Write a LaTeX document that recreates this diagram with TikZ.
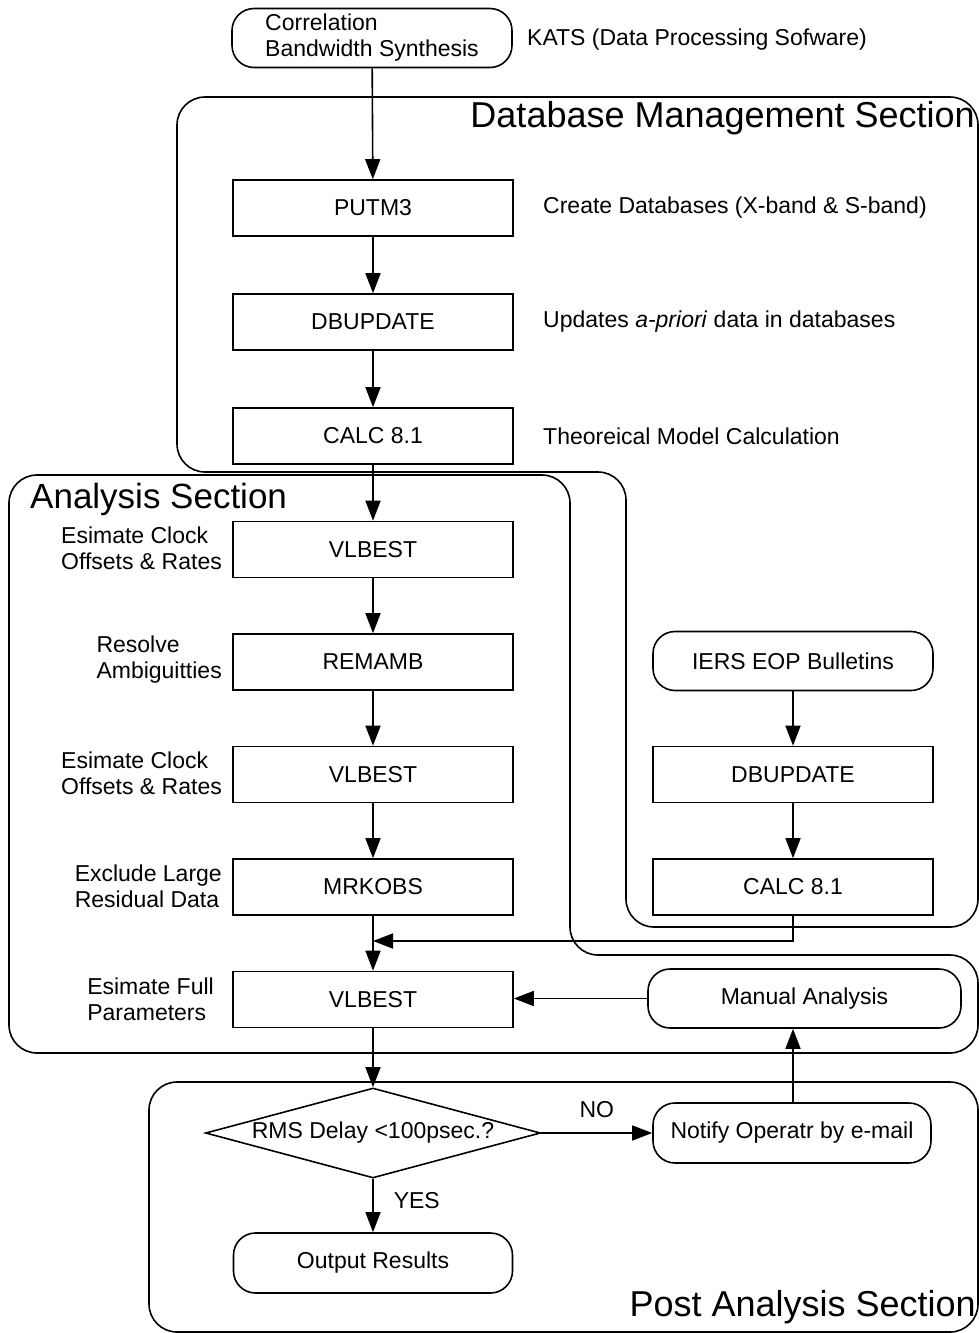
\documentclass[tikz,border=0pt]{standalone}
\usepackage{fontspec}
\setmainfont{Liberation Sans}
\usetikzlibrary{arrows.meta,shapes.geometric}

\begin{document}
\begin{tikzpicture}[x=1pt,y=-1pt,
  every node/.style={font=\fontsize{23}{26}\selectfont, inner sep=0pt},
  proc/.style={draw, line width=1.6pt, minimum width=280pt, minimum height=56pt},
  term/.style={draw, line width=1.6pt, rounded corners=22pt, minimum width=280pt, minimum height=59pt},
  decision/.style={draw, line width=1.6pt, diamond, aspect=3.72, minimum width=335pt, minimum height=90pt},
  region/.style={draw, line width=1.6pt, rounded corners=28pt},
  flow/.style={line width=1.6pt, -{Triangle[length=20pt,width=15pt]}},
  sidenote/.style={anchor=east, align=left},
  remark/.style={anchor=west},
  sectitle/.style={font=\fontsize{36}{40}\selectfont},
]
\useasboundingbox (0,0) rectangle (979,1333);

% section outlines
\draw[region] (500,97) -- (978,97) -- (978,927) -- (626,927) -- (626,472)
  -- (177,472) -- (177,97) -- cycle;
\draw[region] (300,475) -- (570,475) -- (570,955) -- (978,955) -- (978,1053)
  -- (9,1053) -- (9,475) -- cycle;
\draw[region] (500,1082) -- (978,1082) -- (978,1332) -- (149,1332)
  -- (149,1082) -- cycle;

% section titles
\node[sectitle, anchor=base east] (dbtitle) at (975,127) {Database Management Section};
\node[sectitle, anchor=base west, font=\fontsize{35}{40}\selectfont] (antitle) at (30,508) {Analysis Section};
\node[sectitle, anchor=base east] (patitle) at (976,1316) {Post Analysis Section};

% database management
\node[term, align=left] (corr) at (372,38) {Correlation\\Bandwidth Synthesis};
\node[remark] (kats) at (527,40) {KATS (Data Processing Sofware)};
\node[proc] (putm) at (373,208) {PUTM3};
\node[remark] (putmnote) at (543,208) {Create Databases (X-band \& S-band)};
\node[proc] (dbu) at (373,322) {DBUPDATE};
\node[remark] (dbunote) at (543,322) {Updates \textit{a-priori} data in databases};
\node[proc] (calc) at (373,436) {CALC 8.1};
\node[remark] (calcnote) at (543,436) {Theoreical Model Calculation};

% analysis chain
\node[proc] (vlb1) at (373,549.5) {VLBEST};
\node[proc] (rem) at (373,662) {REMAMB};
\node[proc] (vlb2) at (373,774.5) {VLBEST};
\node[proc] (mrk) at (373,887) {MRKOBS};
\node[proc] (vlb3) at (373,999.5) {VLBEST};

\node[sidenote] (n1) at (222,548) {Esimate Clock\\Offsets \& Rates};
\node[sidenote] (n2) at (222,660) {Resolve\\Ambiguitties};
\node[sidenote] (n3) at (222,773) {Esimate Clock\\Offsets \& Rates};
\node[sidenote] (n4) at (222,886) {Exclude Large\\Residual Data};
\node[sidenote] (n5) at (214,999) {Esimate Full\\Parameters};

% EOP update column
\node[term] (iers) at (793,661) {IERS EOP Bulletins};
\node[proc] (dbu2) at (793,774.5) {DBUPDATE};
\node[proc] (calc2) at (793,887) {CALC 8.1};
\node[term, minimum width=313pt] (man) at (804.5,998.5) {Manual Analysis};

% post analysis
\node[decision] (rms) at (373,1133) {RMS Delay <100psec.?};
\node[term, minimum width=278pt, minimum height=60pt] (notify) at (792,1133) {Notify Operatr by e-mail};
\node[term, minimum width=279pt, minimum height=60pt] (out) at (373,1263) {Output Results};

% connectors
\draw[flow] (corr) -- (putm);
\draw[flow] (putm) -- (dbu);
\draw[flow] (dbu) -- (calc);
\draw[flow] (calc) -- (vlb1);
\draw[flow] (vlb1) -- (rem);
\draw[flow] (rem) -- (vlb2);
\draw[flow] (vlb2) -- (mrk);
\draw[flow] (mrk) -- (vlb3);
\draw[flow] (iers) -- (dbu2);
\draw[flow] (dbu2) -- (calc2);
\coordinate (join) at (373,941);
\draw[flow] (calc2.south) |- (join);
\draw[flow] (man.west) -- (vlb3.east |- man.west);
\draw[flow] (vlb3) -- (rms);
\draw[flow] (rms) -- node[midway, above=14pt] (no) {NO} (notify);
\draw[flow] (rms) -- node[pos=0.4, right=20pt] (yes) {YES} (out);
\draw[flow] (notify.north -| 793,0) -- (man.south -| 793,0);
\end{tikzpicture}
\end{document}
